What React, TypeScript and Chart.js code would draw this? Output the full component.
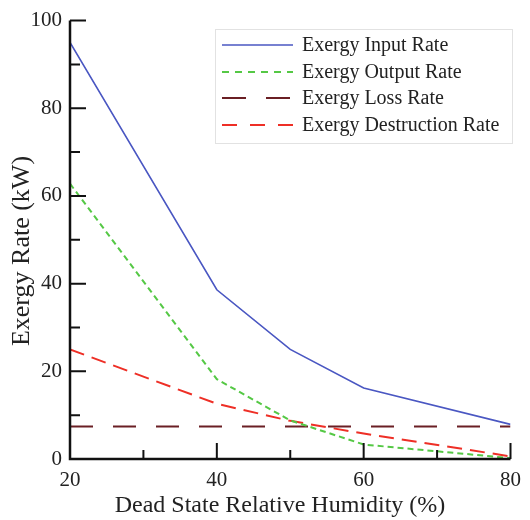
import React, { useEffect, useRef } from "react";
import { Chart, registerables } from "chart.js";

Chart.register(...registerables);

const humidity = [20, 40, 50, 60, 80];
const inputRate = [95, 38.6, 25, 16.2, 7.9];
const outputRate = [62.8, 18.2, 8.8, 3.3, 0.2];
const lossRate = [7.4, 7.4, 7.4, 7.4, 7.4];
const destructionRate = [25, 12.6, 8.7, 5.8, 0.6];

const seriesLabels = [
  "Exergy Input Rate",
  "Exergy Output Rate",
  "Exergy Loss Rate",
  "Exergy Destruction Rate",
];
const xTitle = "Dead State Relative Humidity (%)";
const yTitle = "Exergy Rate (kW)";
const yMajorTicks = [0, 20, 40, 60, 80, 100];
const yMinorTicks = [10, 30, 50, 70, 90];
const xMajorTicks = [20, 40, 60, 80];
const xMinorTicks = [30, 50, 70];

const FONT = "'Liberation Serif', 'Times New Roman', serif";

const colors = ["#4a57c2", "#55c845", "#6a1f24", "#ee2f26"];
const dashes: number[][] = [[], [6, 4], [23, 20], [15, 8]];
const legendDashes: number[][] = [[], [7, 6], [24, 20], [15, 13]];
const widths = [1.6, 2, 2, 2];

const axesPlugin = {
  id: "inwardAxes",
  afterDatasetsDraw(chart: any) {
    const { ctx, chartArea } = chart;
    const xs = chart.scales.x;
    const ys = chart.scales.y;
    ctx.save();
    ctx.strokeStyle = "#111";
    ctx.lineWidth = 2;
    ctx.setLineDash([]);
    ctx.beginPath();
    yMajorTicks.forEach((v) => {
      const p = ys.getPixelForValue(v);
      ctx.moveTo(chartArea.left, p);
      ctx.lineTo(chartArea.left + 16, p);
    });
    yMinorTicks.forEach((v) => {
      const p = ys.getPixelForValue(v);
      ctx.moveTo(chartArea.left, p);
      ctx.lineTo(chartArea.left + 10, p);
    });
    xMajorTicks.forEach((v) => {
      const p = xs.getPixelForValue(v);
      ctx.moveTo(p, chartArea.bottom);
      ctx.lineTo(p, chartArea.bottom - 16);
    });
    xMinorTicks.forEach((v) => {
      const p = xs.getPixelForValue(v);
      ctx.moveTo(p, chartArea.bottom);
      ctx.lineTo(p, chartArea.bottom - 9);
    });
    ctx.stroke();
    ctx.lineWidth = 2.5;
    ctx.beginPath();
    ctx.moveTo(chartArea.left, ys.getPixelForValue(100));
    ctx.lineTo(chartArea.left, chartArea.bottom);
    ctx.lineTo(chartArea.right, chartArea.bottom);
    ctx.stroke();

    // axis titles
    ctx.fillStyle = "#222";
    ctx.textAlign = "center";
    ctx.textBaseline = "alphabetic";
    ctx.font = `24px ${FONT}`;
    ctx.fillText(xTitle, 280, 512);
    ctx.save();
    ctx.translate(29, 251);
    ctx.rotate(-Math.PI / 2);
    ctx.font = `26px ${FONT}`;
    ctx.fillText(yTitle, 0, 0);
    ctx.restore();

    // legend
    const bx = 215, by = 29, bw = 297, bh = 114;
    ctx.fillStyle = "#ffffff";
    ctx.fillRect(bx, by, bw, bh);
    ctx.strokeStyle = "#e2e2e2";
    ctx.lineWidth = 1;
    ctx.strokeRect(bx + 0.5, by + 0.5, bw, bh);
    const rows = [45, 72, 98, 125];
    ctx.font = `20px ${FONT}`;
    ctx.textBaseline = "middle";
    ctx.textAlign = "left";
    chart.data.datasets.forEach((ds: any, i: number) => {
      const y = rows[i];
      ctx.strokeStyle = colors[i];
      ctx.lineWidth = widths[i];
      ctx.setLineDash(legendDashes[i]);
      ctx.beginPath();
      ctx.moveTo(222, y);
      ctx.lineTo(293, y);
      ctx.stroke();
      ctx.setLineDash([]);
      ctx.fillStyle = "#222";
      ctx.fillText(ds.label, 302, y + 1);
    });
    ctx.restore();
  },
};

export default function App() {
  const ref = useRef<HTMLCanvasElement>(null);
  useEffect(() => {
    if (!ref.current) return;
    const series = [inputRate, outputRate, lossRate, destructionRate];
    const chart = new Chart(ref.current, {
      type: "line",
      data: {
        datasets: series.map((vals, i) => ({
          label: seriesLabels[i],
          data: humidity.map((x, j) => ({ x, y: vals[j] })),
          borderColor: colors[i],
          borderWidth: widths[i],
          borderDash: dashes[i],
          pointRadius: 0,
          tension: 0,
          fill: false,
        })),
      },
      options: {
        animation: false,
        responsive: false,
        maintainAspectRatio: false,
        layout: { padding: { left: 0, right: 16, top: 14, bottom: 0 } },
        plugins: { legend: { display: false }, tooltip: { enabled: false } },
        scales: {
          x: {
            type: "linear",
            min: 20,
            max: 80,
            afterFit: (s: any) => {
              s.height = 61;
            },
            afterBuildTicks: (s: any) => {
              s.ticks = xMajorTicks.map((v) => ({ value: v }));
            },
            grid: { display: false, drawTicks: false },
            border: { display: false },
            ticks: {
              padding: 9,
              color: "#222",
              font: { family: FONT, size: 21 },
              maxRotation: 0,
            },
          },
          y: {
            type: "linear",
            min: 0,
            max: 100,
            afterFit: (s: any) => {
              s.width = 70;
            },
            afterBuildTicks: (s: any) => {
              s.ticks = yMajorTicks.map((v) => ({ value: v }));
            },
            grid: { display: false, drawTicks: false },
            border: { display: false },
            ticks: {
              padding: 8,
              color: "#222",
              font: { family: FONT, size: 21 },
            },
          },
        },
      },
      plugins: [axesPlugin],
    });
    return () => chart.destroy();
  }, []);
  return (
    <div style={{ position: "absolute", left: 0, top: 0, width: 530, height: 520, background: "#fff" }}>
      <canvas ref={ref} width={530} height={520} style={{ display: "block" }} />
    </div>
  );
}
